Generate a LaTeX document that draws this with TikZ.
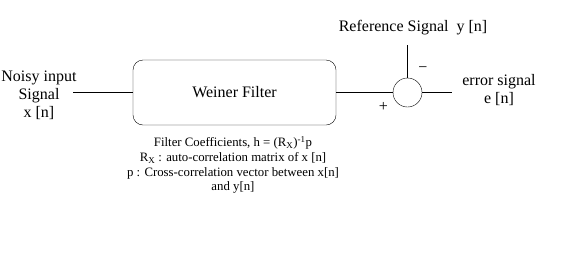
\documentclass[tikz,border=0pt]{standalone}
\usepackage{fontspec}
\setmainfont{Liberation Serif}

\tikzset{
    blockbox/.style={draw, rounded corners=10bp, minimum width=203bp, minimum height=65bp, inner sep=0pt},
    sumnode/.style={draw, circle, minimum size=29bp, inner sep=0pt},
    labeltext/.style={align=center, inner sep=0pt, font=\fontsize{16bp}{18bp}\selectfont},
    smalltext/.style={align=center, inner sep=0pt, font=\fontsize{12.8bp}{14.7bp}\selectfont},
    signal/.style={line width=0.9bp}
}

\begin{document}
\begin{tikzpicture}[x=1bp, y=-1bp]
    \useasboundingbox (0,0) rectangle (561,261);

    \node[blockbox, labeltext] (filter) at (234.5,92.5) {Weiner Filter};
    \node[sumnode] (sum) at (407.5,92.5) {};

    \node[labeltext] (noisy) at (39,95) {Noisy input\\Signal\\x [n]};
    \node[labeltext] (ref) at (413,28) {Reference Signal~~y [n]};
    \node[labeltext] (err) at (499,90) {error signal\\e [n]};
    \node[labeltext] (minus) at (423,70) {−};
    \node[labeltext] (plus) at (383.5,107) {+};

    \node[smalltext] (coef) at (233,165) {Filter Coefficients, h = (R\textsubscript{X})\textsuperscript{-1}p\\
        R\textsubscript{X} : auto-correlation matrix of x [n]\\
        p : Cross-correlation vector between x[n]\\
        and y[n]};

    \coordinate (in) at (73,92.5);
    \coordinate (refin) at (407.5,45);
    \coordinate (out) at (452,92.5);

    \draw[signal] (in) -- (filter.west);
    \draw[signal] (filter.east) -- (sum.west);
    \draw[signal] (refin) -- (sum.north);
    \draw[signal] (sum.east) -- (out);

\end{tikzpicture}
\end{document}
